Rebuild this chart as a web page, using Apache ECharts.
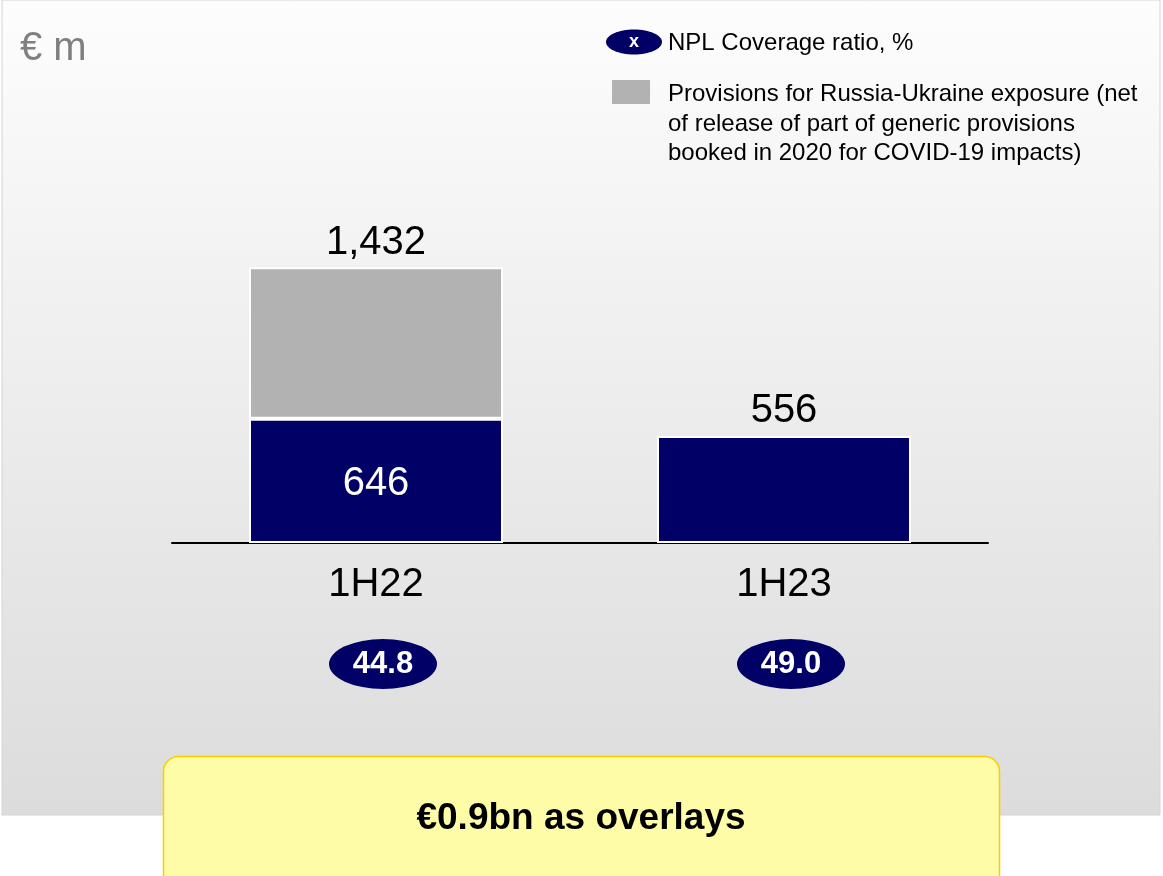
<!DOCTYPE html>
<html>
<head>
<meta charset="utf-8">
<title>Provisions 1H22 vs 1H23</title>
<script src="https://cdn.jsdelivr.net/npm/echarts@6/dist/echarts.min.js"></script>
<style>
	html, body { margin: 0; padding: 0; background: #fff; }
	#chart { width: 1163px; height: 876px; }
</style>
</head>
<body>
<div id="chart"></div>
<script>
	const categories = ['1H22', '1H23'];
	const coreValues = [646, 556];
	const totalValues = [1432, 556];
	const nplRatios = [44.8, 49.0];

	const NAVY = '#000066';
	const GREY = '#b2b2b2';
	const FONT = '"Liberation Sans", Arial, Helvetica, sans-serif';

	//灰色部分 = 合计 - 核心
	const russiaValues = totalValues.map(function (t, i) {
		const v = t - coreValues[i];
		return v > 0 ? v : '-';
	});

	const chart = echarts.init(document.getElementById('chart'), null, { renderer: 'canvas' });

	const options = {
		animation: false,
		textStyle: { fontFamily: FONT },
		grid: [{
				left: 172,
				width: 816,
				top: 158,
				height: 385
			}, {
				left: 172,
				width: 816,
				top: 640,
				height: 48
			}
		],
		xAxis: [{
				type: 'category',
				gridIndex: 0,
				data: categories,
				axisTick: { show: false },
				axisLine: {
					lineStyle: { color: '#000', width: 2 }
				},
				axisLabel: {
					color: '#000',
					fontSize: 40,
					fontFamily: FONT,
					margin: 22
				}
			}, {
				type: 'category',
				gridIndex: 1,
				data: categories,
				show: false
			}
		],
		yAxis: [{
				type: 'value',
				gridIndex: 0,
				min: 0,
				max: 2000,
				show: false,
				splitLine: { show: false }
			}, {
				type: 'value',
				gridIndex: 1,
				min: 0,
				max: 1,
				show: false,
				splitLine: { show: false }
			}
		],
		series: [{
				name: 'Core',
				type: 'bar',
				stack: 'total',
				barWidth: 254,
				itemStyle: {
					color: NAVY,
					borderColor: '#fff',
					borderWidth: 2
				},
				data: coreValues.map(function (v, i) {
					const onTop = russiaValues[i] === '-';
					return {
						value: v,
						label: {
							show: true,
							position: onTop ? 'top' : 'inside',
							distance: 5,
							offset: onTop ? [0, 0] : [0, 3],
							color: onTop ? '#000' : '#fff',
							fontSize: 40,
							fontFamily: FONT
						}
					};
				})
			}, {
				name: 'Provisions for Russia-Ukraine exposure',
				type: 'bar',
				stack: 'total',
				barWidth: 254,
				itemStyle: {
					color: GREY,
					borderColor: '#fff',
					borderWidth: 2
				},
				label: {
					show: true,
					position: 'top',
					distance: 4,
					color: '#000',
					fontSize: 40,
					fontFamily: FONT,
					formatter: function (p) {
						return totalValues[p.dataIndex].toLocaleString('en-US');
					}
				},
				data: russiaValues
			}, {
				name: 'NPL Coverage ratio, %',
				type: 'scatter',
				xAxisIndex: 1,
				yAxisIndex: 1,
				symbol: 'circle',
				symbolSize: [108, 50],
				symbolOffset: [7, 0],
				itemStyle: { color: NAVY, opacity: 1 },
				label: {
					show: true,
					position: 'inside',
					color: '#fff',
					fontSize: 31,
					fontWeight: 'bold',
					fontFamily: FONT,
					formatter: function (p) {
						return nplRatios[p.dataIndex].toFixed(1);
					}
				},
				data: nplRatios.map(function (r, i) {
					return [categories[i], 0.5];
				})
			}
		],
		graphic: [{
				//背景
				type: 'rect',
				z: -10,
				silent: true,
				shape: { x: 2, y: 0, width: 1158, height: 815 },
				style: {
					fill: new echarts.graphic.LinearGradient(0, 0, 0, 1, [{
								offset: 0,
								color: '#fdfdfd'
							}, {
								offset: 1,
								color: '#dcdcdc'
							}
						]),
					stroke: '#d4d4d4',
					lineWidth: 1
				}
			}, {
				type: 'text',
				left: 20,
				top: 29,
				style: {
					text: '€ m',
					fill: '#7f7f7f',
					font: '40px ' + FONT
				}
			}, {
				//图例
				type: 'ellipse',
				shape: { cx: 634, cy: 42, rx: 28, ry: 12.5 },
				style: { fill: NAVY }
			}, {
				type: 'text',
				x: 634,
				y: 42,
				style: {
					text: 'x',
					fill: '#fff',
					font: 'bold 18px ' + FONT,
					align: 'center',
					verticalAlign: 'middle'
				}
			}, {
				type: 'text',
				x: 668,
				y: 43,
				style: {
					text: 'NPL Coverage ratio, %',
					fill: '#000',
					font: '24px ' + FONT,
					verticalAlign: 'middle'
				}
			}, {
				type: 'rect',
				shape: { x: 612, y: 80, width: 38, height: 24 },
				style: { fill: GREY }
			}, {
				type: 'text',
				x: 668,
				y: 80,
				style: {
					text: 'Provisions for Russia-Ukraine exposure (net\nof release of part of generic provisions\nbooked in 2020 for COVID-19 impacts)',
					fill: '#000',
					font: '24px ' + FONT,
					lineHeight: 29.5,
					verticalAlign: 'top'
				}
			}, {
				//黄色提示框
				type: 'rect',
				z: 100,
				shape: { x: 163.5, y: 756.5, width: 836, height: 140, r: 15 },
				style: {
					fill: '#fffca8',
					stroke: '#ffcc00',
					lineWidth: 1.5
				}
			}, {
				type: 'text',
				z: 101,
				x: 581,
				y: 819,
				style: {
					text: '€0.9bn as overlays',
					fill: '#000',
					font: 'bold 37px ' + FONT,
					align: 'center',
					verticalAlign: 'middle'
				}
			}
		]
	};

	chart.setOption(options);
</script>
</body>
</html>
